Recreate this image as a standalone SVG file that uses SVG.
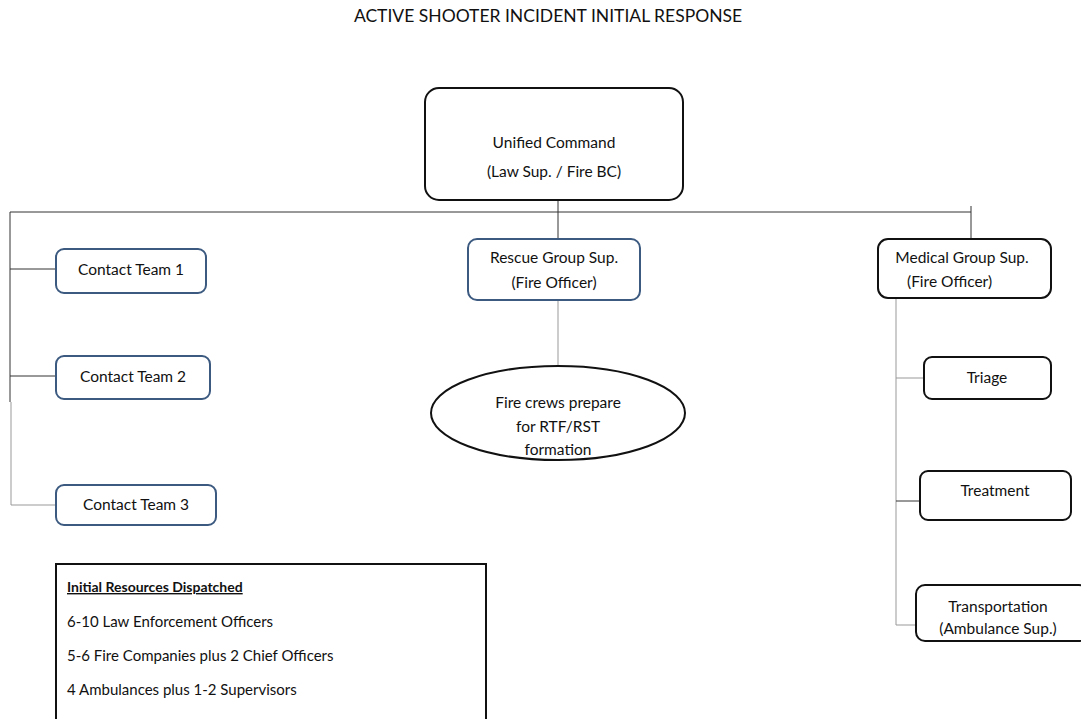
<svg xmlns="http://www.w3.org/2000/svg" width="1081" height="719" viewBox="0 0 1081 719">
  <style>
    text { font-family: Lato, "Open Sans", "Liberation Sans", sans-serif; font-size: 15.5px; fill: #111; }
    .mid { text-anchor: middle; }
    .title { font-size: 17.5px; }
    .list { font-size: 15px; }
    .box-k { fill: #fff; stroke: #111; stroke-width: 2; }
    .box-b { fill: #fff; stroke: #3c5a80; stroke-width: 2; }
    .wire { fill: none; stroke: #333; stroke-width: 1; }
    .wire-lt { fill: none; stroke: #999; stroke-width: 1; }
    .head { font-weight: bold; text-decoration: underline; font-size: 14px; }
  </style>

  <rect width="1081" height="719" fill="#fff"/>

  <text class="mid title" x="548" y="22">ACTIVE SHOOTER INCIDENT INITIAL RESPONSE</text>

  <!-- connectors -->
  <g id="connectors">
    <line class="wire" x1="558" y1="200" x2="558" y2="239"/>
    <line class="wire" x1="10" y1="212" x2="971" y2="212"/>
    <line class="wire" x1="971" y1="206" x2="971" y2="239"/>
    <!-- left branch to contact teams -->
    <line class="wire" x1="10" y1="212" x2="10" y2="402"/>
    <line class="wire-lt" x1="11" y1="402" x2="11" y2="505"/>
    <line class="wire" x1="10" y1="269" x2="56" y2="269"/>
    <line class="wire" x1="10" y1="376" x2="56" y2="376"/>
    <line class="wire-lt" x1="11" y1="505" x2="56" y2="505"/>
    <!-- rescue to fire crews -->
    <line class="wire-lt" x1="558" y1="300" x2="558" y2="366"/>
    <!-- medical branch -->
    <line class="wire-lt" x1="896" y1="298" x2="896" y2="625"/>
    <line class="wire-lt" x1="896" y1="378" x2="924" y2="378"/>
    <line class="wire" x1="896" y1="501" x2="920" y2="501"/>
    <line class="wire-lt" x1="896" y1="625" x2="916" y2="625"/>
  </g>

  <g id="unified-command">
    <rect class="box-k" x="425" y="88" width="258" height="112" rx="14"/>
    <text class="mid" x="554" y="148">Unified Command</text>
    <text class="mid" x="554" y="177">(Law Sup. / Fire BC)</text>
  </g>

  <g id="contact-team-1">
    <rect class="box-b" x="56" y="249" width="150" height="44" rx="8"/>
    <text class="mid" x="131" y="275">Contact Team 1</text>
  </g>
  <g id="contact-team-2">
    <rect class="box-b" x="56" y="356" width="154" height="43" rx="8"/>
    <text class="mid" x="133" y="382">Contact Team 2</text>
  </g>
  <g id="contact-team-3">
    <rect class="box-b" x="56" y="485" width="160" height="40" rx="8"/>
    <text class="mid" x="136" y="510">Contact Team 3</text>
  </g>

  <g id="rescue-group">
    <rect class="box-b" x="468" y="239" width="172" height="61" rx="9"/>
    <text class="mid" x="554" y="263">Rescue Group Sup.</text>
    <text class="mid" x="554" y="288">(Fire Officer)</text>
  </g>

  <g id="fire-crews">
    <ellipse cx="558" cy="413" rx="127" ry="47" fill="#fff" stroke="#111" stroke-width="2"/>
    <text class="mid" x="558" y="408">Fire crews prepare</text>
    <text class="mid" x="558" y="432">for RTF/RST</text>
    <text class="mid" x="558" y="455">formation</text>
  </g>

  <g id="medical-group">
    <rect class="box-k" x="878" y="239" width="173" height="59" rx="10"/>
    <text class="mid" x="962" y="263">Medical Group Sup.</text>
    <text x="907" y="287">(Fire Officer)</text>
  </g>

  <g id="triage">
    <rect class="box-k" x="924" y="357" width="127" height="42" rx="8"/>
    <text class="mid" x="987" y="383">Triage</text>
  </g>
  <g id="treatment">
    <rect class="box-k" x="920" y="471" width="151" height="49" rx="8"/>
    <text class="mid" x="995" y="496">Treatment</text>
  </g>
  <g id="transportation">
    <rect class="box-k" x="916" y="585" width="172" height="56" rx="9"/>
    <text class="mid" x="998" y="612">Transportation</text>
    <text class="mid" x="998" y="634">(Ambulance Sup.)</text>
  </g>

  <g id="resources">
    <rect class="box-k" x="56" y="564" width="430" height="170"/>
    <text class="head" x="67" y="592">Initial Resources Dispatched</text>
    <text class="list" x="67" y="627">6-10 Law Enforcement Officers</text>
    <text class="list" x="67" y="661">5-6 Fire Companies plus 2 Chief Officers</text>
    <text class="list" x="67" y="695">4 Ambulances plus 1-2 Supervisors</text>
  </g>
</svg>
